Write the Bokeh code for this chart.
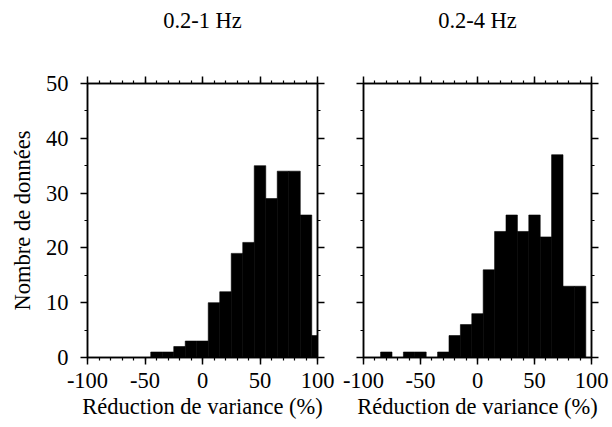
from bokeh.plotting import figure
from bokeh.layouts import row
from bokeh.models import LinearAxis, SingleIntervalTicker, Range1d
from bokeh.embed import file_html
from bokeh.resources import INLINE

# Data (bin centres, width 10)
bin_centers = [-100, -90, -80, -70, -60, -50, -40, -30, -20, -10, 0,
               10, 20, 30, 40, 50, 60, 70, 80, 90, 100]
counts_1hz = [0, 0, 0, 0, 0, 0, 1, 1, 2, 3, 3,
              10, 12, 19, 21, 35, 29, 34, 34, 26, 4]
counts_4hz = [0, 0, 1, 0, 1, 1, 0, 1, 4, 6, 8,
              16, 23, 26, 23, 26, 22, 37, 13, 13, 0]
bin_width = 10
titles = ["0.2-1 Hz", "0.2-4 Hz"]
x_label = "Réduction de variance (%)"
y_label = "Nombre de données"
x_tick_labels = {-100: "-100", -50: "-50", 0: "0", 50: "50", 100: "100"}

FONT = "Liberation Serif"
FS = "22.5px"


def style_axis(ax, labels=True, is_x=True):
    ax.ticker = SingleIntervalTicker(interval=50 if is_x else 10,
                                     num_minor_ticks=5 if is_x else 2)
    ax.axis_line_color = "black"
    ax.axis_line_width = 1.5
    ax.major_tick_line_color = "black"
    ax.major_tick_line_width = 1.5
    ax.minor_tick_line_color = "black"
    ax.minor_tick_line_width = 1.2
    ax.major_tick_in = 0
    ax.major_tick_out = 7
    ax.minor_tick_in = 0
    ax.minor_tick_out = 3
    ax.major_label_text_font = FONT
    if labels:
        ax.major_label_text_color = "black"
        ax.major_label_text_font_size = FS
        ax.major_label_standoff = 8 if is_x else 12
        if is_x:
            ax.major_label_overrides = x_tick_labels
    else:
        ax.major_label_text_color = None
        ax.major_label_text_font_size = "1px"
        ax.major_label_standoff = 0
    ax.axis_label_text_font = FONT
    ax.axis_label_text_font_size = FS
    ax.axis_label_text_font_style = "normal"
    ax.axis_label_text_color = "black"


def make_panel(counts, title, width, left_border, right_border, show_ylabels):
    p = figure(width=width, height=427, output_backend="svg", toolbar_location=None,
               x_range=Range1d(-100, 100), y_range=Range1d(0, 50),
               x_axis_location=None, y_axis_location=None, title_location=None,
               min_border_left=left_border, min_border_right=right_border,
               min_border_top=83, min_border_bottom=70)
    p.grid.visible = False
    p.outline_line_color = "black"
    p.outline_line_width = 1.5
    p.background_fill_color = "white"
    p.border_fill_color = "white"

    lefts = [c - bin_width / 2 for c in bin_centers]
    rights = [c + bin_width / 2 for c in bin_centers]
    p.quad(left=lefts, right=rights, bottom=0, top=counts,
           fill_color="black", line_color="black", line_width=0.6)

    xb = LinearAxis()
    style_axis(xb, labels=True, is_x=True)
    xb.axis_label = x_label
    xb.axis_label_standoff = 3
    p.add_layout(xb, "below")

    # top axis carries the panel title as its axis label
    xt = LinearAxis()
    style_axis(xt, labels=False, is_x=True)
    xt.axis_label = title
    xt.axis_label_standoff = 44
    p.add_layout(xt, "above")

    yl = LinearAxis()
    style_axis(yl, labels=show_ylabels, is_x=False)
    if show_ylabels:
        yl.axis_label = y_label
        yl.axis_label_standoff = 8
    p.add_layout(yl, "left")

    yr = LinearAxis()
    style_axis(yr, labels=False, is_x=False)
    p.add_layout(yr, "right")
    return p


p1 = make_panel(counts_1hz, titles[0], 340, 87, 23, True)
p2 = make_panel(counts_4hz, titles[1], 272, 23, 21, False)

layout = row(p1, p2)
open("out.html", "w").write(file_html(layout, INLINE))
